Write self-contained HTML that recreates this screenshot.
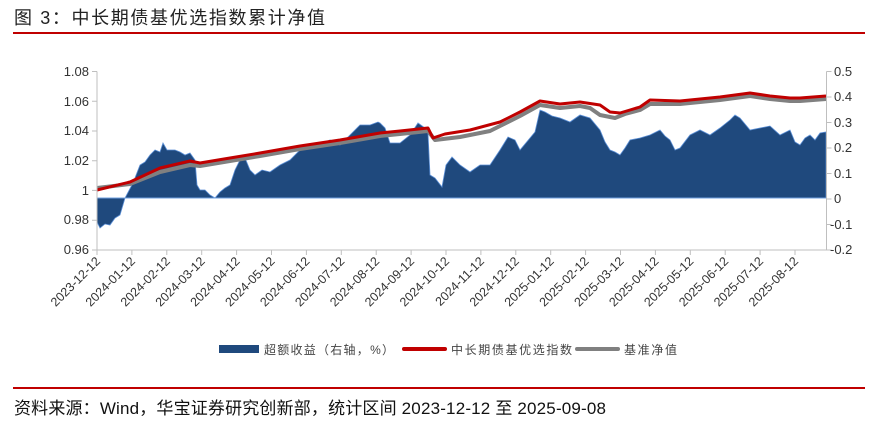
<!DOCTYPE html>
<html><head><meta charset="utf-8">
<style>
body{margin:0;background:#fff;}
svg text{font-family:"Liberation Sans","Noto Sans CJK SC",sans-serif;}
</style></head>
<body>
<svg width="878" height="432" viewBox="0 0 878 432" xmlns="http://www.w3.org/2000/svg">
<rect width="878" height="432" fill="#fff"/>
<text x="14" y="24" font-size="18" fill="#222" textLength="311" lengthAdjust="spacing">图 3：中长期债基优选指数累计净值</text>
<rect x="13" y="32" width="852" height="2" fill="#c00000"/>

<path fill="#1f497d" stroke="#5b8fd6" stroke-width="0.8" d="M97,198 L97,222 L100,228 L105,224 L110,225 L115,218 L120,215 L125,198 L133,183 L140,165 L145,162 L150,155 L155,150 L160,152 L163,143 L167,150 L175,150 L180,152 L185,155 L190,153 L195,160 L197,185 L200,190 L205,190 L210,195 L215,198 L220,192 L225,188 L230,185 L235,170 L240,160 L245,158 L250,170 L255,175 L262,170 L270,172 L280,165 L290,160 L300,150 L310,148 L320,145 L330,140 L340,145 L350,135 L360,125 L370,125 L378,122 L380,123 L385,128 L390,143 L400,143 L410,135 L418,123 L425,128 L428,133 L430,175 L435,178 L442,187 L446,165 L452,157 L460,165 L470,172 L480,165 L490,165 L500,150 L508,137 L515,140 L520,150 L530,138 L535,132 L540,110 L545,112 L552,116 L560,118 L570,122 L580,115 L590,118 L600,130 L605,142 L610,150 L615,152 L620,155 L625,148 L630,140 L640,138 L650,135 L660,130 L665,136 L670,140 L675,150 L680,148 L690,135 L700,130 L710,135 L720,128 L730,120 L735,115 L740,118 L750,130 L760,128 L770,126 L780,135 L790,130 L795,142 L800,145 L805,138 L810,135 L815,140 L820,133 L826,132 L826,198 Z"/>
<line x1="97" y1="198" x2="826" y2="198" stroke="#6fa0e0" stroke-width="1"/>

<polyline fill="none" stroke="#808080" stroke-width="4" stroke-linejoin="round" points="97,188 130,184 160,172 190,165 200,166 230,161 260,156 300,149 340,143 380,136 400,134 428,131 435,140 460,137 490,131 500,126 520,116 540,105 560,108 580,106 590,108 600,115 615,118 625,114 640,110 650,104 680,104 720,100 750,96 770,99 790,101 800,101 826,99"/>
<polyline fill="none" stroke="#c00000" stroke-width="3" stroke-linejoin="round" points="97,190 130,182 160,168 190,161 200,163 230,158 260,153 300,146 340,140 380,133 400,131 428,128 433,138 445,134 470,130 500,122 520,112 540,101 560,104 580,102 600,105 610,112 620,113 630,110 640,107 650,100 680,101 720,97 750,93 770,96 790,98 800,98 826,96"/>

<g stroke="#bfbfbf" stroke-width="1" fill="none">
<line x1="97" y1="71.5" x2="97" y2="250"/>
<line x1="826.5" y1="71.5" x2="826.5" y2="250"/>
<line x1="97" y1="250" x2="826.5" y2="250"/>
<path d="M92,71.5h5M92,101.2h5M92,131h5M92,160.7h5M92,190.4h5M92,220.2h5M92,250h5"/>
<path d="M826.5,71.5h5M826.5,97h5M826.5,122.5h5M826.5,148h5M826.5,173.5h5M826.5,199h5M826.5,224.5h5M826.5,250h5"/>
</g>
<g font-size="13" fill="#333" text-anchor="end">
<text x="89" y="76">1.08</text><text x="89" y="106">1.06</text><text x="89" y="135">1.04</text><text x="89" y="165">1.02</text><text x="89" y="195">1</text><text x="89" y="224">0.98</text><text x="89" y="254">0.96</text>
</g>
<g font-size="13" fill="#333">
<text x="834" y="76">0.5</text><text x="834" y="101">0.4</text><text x="834" y="127">0.3</text><text x="834" y="152">0.2</text><text x="834" y="178">0.1</text><text x="834" y="203">0</text><text x="830" y="229">-0.1</text><text x="830" y="254">-0.2</text>
</g>
<g id="xt" font-size="12.5" fill="#333" text-anchor="end"></g>
<g stroke="#bfbfbf" id="xtk"></g>
<script>
var labs=["2023-12-12","2024-01-12","2024-02-12","2024-03-12","2024-04-12","2024-05-12","2024-06-12","2024-07-12","2024-08-12","2024-09-12","2024-10-12","2024-11-12","2024-12-12","2025-01-12","2025-02-12","2025-03-12","2025-04-12","2025-05-12","2025-06-12","2025-07-12","2025-08-12"];
var g=document.getElementById("xt"),t=document.getElementById("xtk"),ns="http://www.w3.org/2000/svg";
labs.forEach(function(l,i){var x=97+i*34.9;
var e=document.createElementNS(ns,"text");e.setAttribute("x",x+4);e.setAttribute("y",262);e.setAttribute("transform","rotate(-45 "+(x+4)+" 262)");e.textContent=l;g.appendChild(e);
var k=document.createElementNS(ns,"line");k.setAttribute("x1",x);k.setAttribute("x2",x);k.setAttribute("y1",250);k.setAttribute("y2",255);t.appendChild(k);});
</script>

<rect x="219" y="345" width="40" height="8" fill="#1f497d"/>
<text x="264" y="354" font-size="12" fill="#444" textLength="130" lengthAdjust="spacing">超额收益（右轴，%）</text>
<line x1="404" y1="349" x2="445" y2="349" stroke="#c00000" stroke-width="4" stroke-linecap="round"/>
<text x="451" y="354" font-size="12" fill="#444" textLength="121" lengthAdjust="spacing">中长期债基优选指数</text>
<line x1="577" y1="349" x2="618" y2="349" stroke="#808080" stroke-width="4" stroke-linecap="round"/>
<text x="624" y="354" font-size="12" fill="#444" textLength="53" lengthAdjust="spacing">基准净值</text>

<rect x="13" y="387" width="852" height="2" fill="#c00000"/>
<text x="14" y="414" font-size="17" fill="#111" textLength="592" lengthAdjust="spacing">资料来源：Wind，华宝证券研究创新部，统计区间 2023-12-12 至 2025-09-08</text>
</svg>
</body></html>
